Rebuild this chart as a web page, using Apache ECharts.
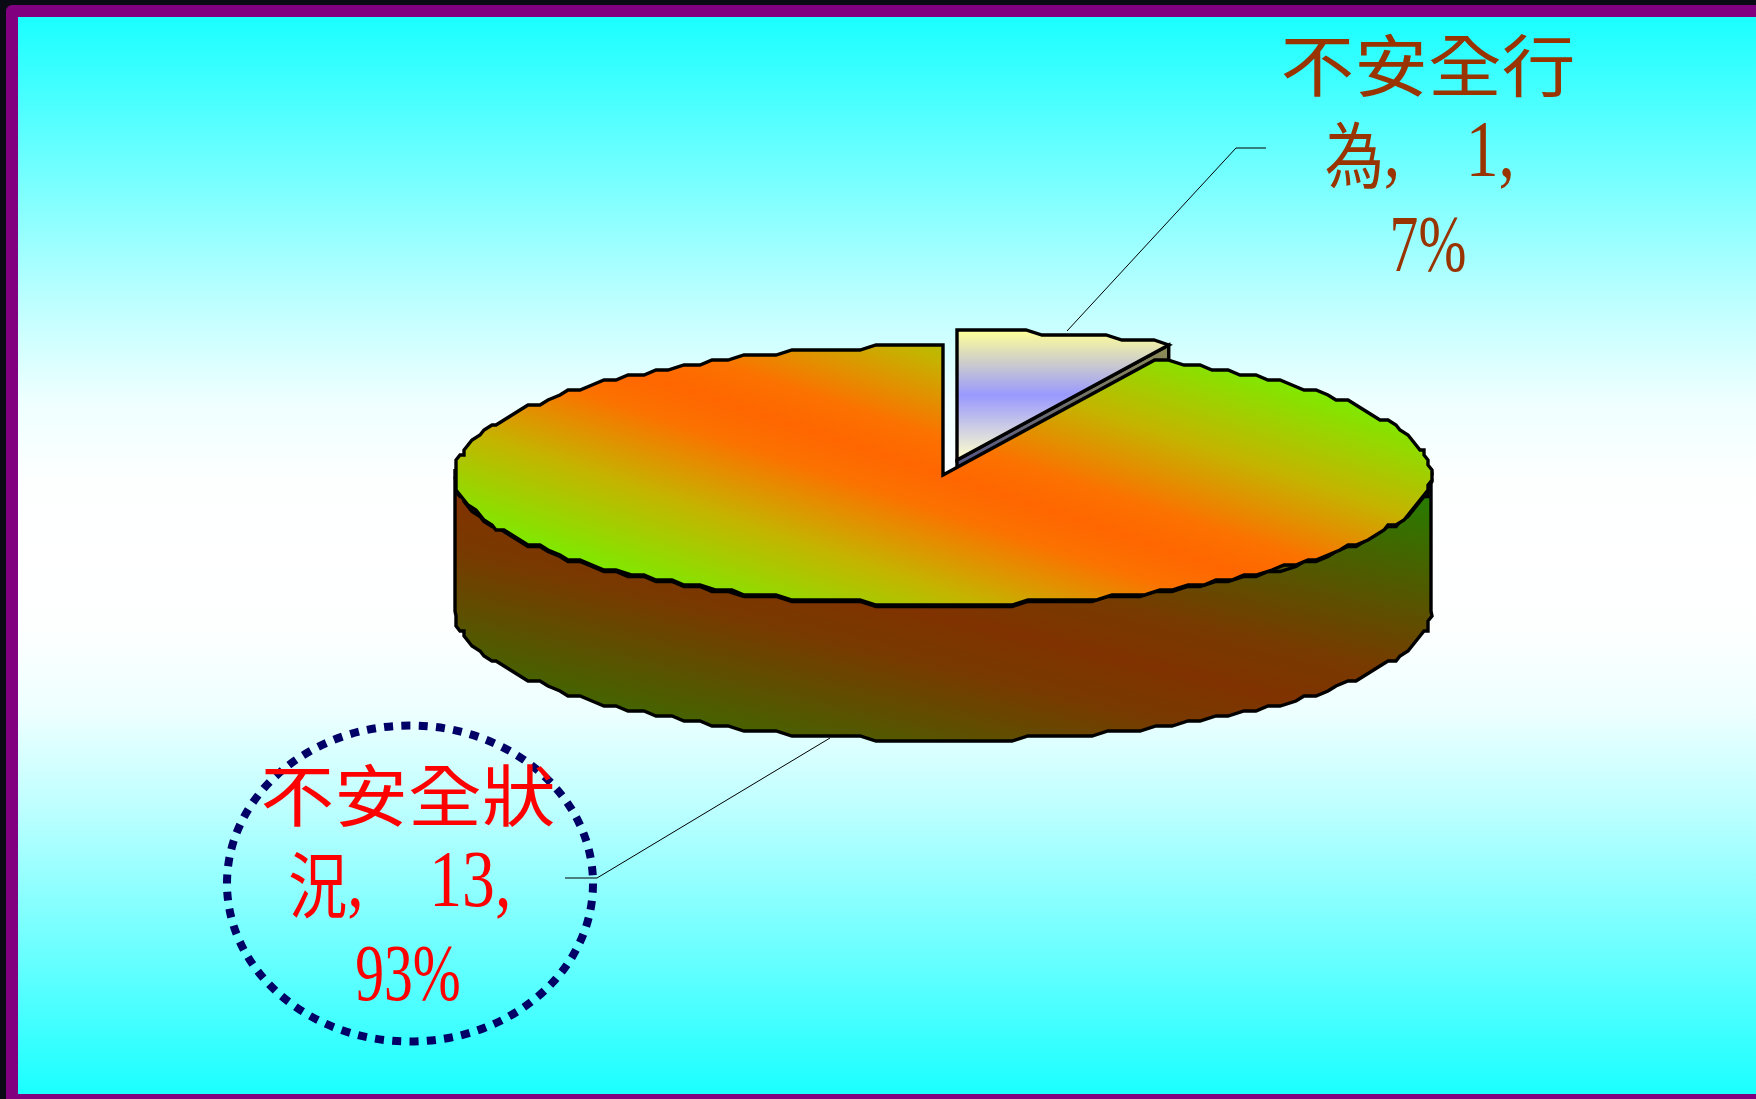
<!DOCTYPE html>
<html><head><meta charset="utf-8"><style>html,body{margin:0;padding:0;background:#0a0a14}#c{width:1756px;height:1099px}</style>
<script src="https://cdn.jsdelivr.net/npm/echarts@6/dist/echarts.min.js"></script></head>
<body><div id="c"></div>
<script>
const categories = ['不安全行為', '不安全狀況'];
const values = [1, 13];
const labelColors = ['#993300', '#ff0000'];

const total = values.reduce((a, b) => a + b, 0);
const G = echarts.graphic;
const CX = 943, CY = 475, RX = 488, RY = 129, DEPTH = 136, QX = 4, QY = 5;
const EXPLODE = [[14, -15], [0, 0]];
const LABELS = [
  {x: 1428, ys: [66, 155, 250], leader: [[1067, 331], [1236, 148], [1266, 148]]},
  {x: 408, ys: [796, 885, 979], leader: [[830, 738], [597, 878], [565, 878]]}
];
const q = (v, s) => Math.round(v / s) * s;
function arc(a0, a1, ox, oy) {
  const pts = [], step = 2, n = Math.max(1, Math.round((a1 - a0) / step));
  for (let i = 0; i <= n; i++) {
    const a = (a0 + (a1 - a0) * i / n) * Math.PI / 180;
    const edge = i === 0 || i === n;
    const x = CX + RX * Math.sin(a) + ox, y = CY - RY * Math.cos(a) + oy;
    const p = edge ? [x, q(y - oy, QY) + oy] : [q(x - ox, QX) + ox, q(y - oy, QY) + oy];
    const last = pts[pts.length - 1];
    if (!last || last[0] !== p[0] || last[1] !== p[1]) pts.push(p);
  }
  return pts;
}
const lg = (x0, y0, x1, y1, stops) => new G.LinearGradient(x0, y0, x1, y1, stops.map(s => ({offset: s[0], color: s[1]})), true);
const GREEN = '#80e800', ORANGE = '#ff6600', DGREEN = '#1e8400', BROWN = '#803300';
const TOPSTOPS = [[0, GREEN], [0.22, '#c4b400'], [0.41, '#fb7200'], [0.5, ORANGE], [0.59, '#fb7200'], [0.78, '#c4b400'], [1, GREEN]];
const topFill = lg(943 + 0.316 * 195, 475 - 0.949 * 195, 943 - 0.316 * 195, 475 + 0.949 * 195, TOPSTOPS);
const sideFill = lg(470 + 0.232 * 250, 504 - 0.973 * 250, 470 - 0.232 * 250, 504 + 0.973 * 250,
  [[0, DGREEN], [0.4, '#783a00'], [0.5, BROWN], [0.6, '#783a00'], [1, DGREEN]]);
const thinTop = lg(0, 331, 0, 459, [[0, '#ffff99'], [0.5, '#9999ff'], [1, '#ffffcc']]);
const thinSide = lg(0, 344, 0, 480, [[0, '#8c8c54'], [1, '#4d4d8c']]);
const LINE = {stroke: '#000', lineWidth: 3.4, lineJoin: 'miter', miterLimit: 4};
const CJK = '"Noto Sans CJK TC"', SERIF = '"Liberation Serif"';

function renderItem(params, api) {
  const i = params.dataIndex;
  let start = 0;
  for (let k = 0; k < i; k++) start += values[k];
  const a0 = start / total * 360, a1 = (start + api.value(0)) / total * 360;
  const [ox, oy] = EXPLODE[i];
  const apex = [CX + ox, CY + oy];
  const rim = arc(a0, a1, ox, oy);
  const kids = [];
  const poly = (points, fill) => kids.push({type: 'polygon', shape: {points}, style: Object.assign({fill}, LINE)});
  if (i === 0) {
    const c = rim[rim.length - 1];
    poly([[c[0], c[1]], [c[0], c[1] + DEPTH], [apex[0], apex[1] + DEPTH], apex], thinSide);
    poly([apex].concat(rim), thinTop);
  } else {
    const from = Math.max(a0, 90), to = Math.min(a1, 270);
    const hidden = arc(from, to, ox, oy - 6), lower = arc(from, to, ox, oy + DEPTH).reverse();
    poly(hidden.concat(lower), sideFill);
    kids.push({type: 'polyline', shape: {points: arc(from, to, ox, oy + 1.5)}, style: Object.assign({fill: 'none'}, LINE)});
    poly([apex].concat(rim), topFill);
  }
  const L = LABELS[i], name = api.value(1), v = api.value(0);
  const pct = Math.round(v / total * 100) + '%';
  kids.push({type: 'polyline', shape: {points: L.leader}, style: {stroke: '#000', lineWidth: 1, fill: 'none'}});
  if (i === 1) kids.push({type: 'ellipse', shape: {cx: 410, cy: 883.5, rx: 183, ry: 158},
    style: {fill: 'none', stroke: '#000066', lineWidth: 8, lineDash: [9, 8.3]}});
  const base = {fill: labelColors[i], align: 'center', verticalAlign: 'middle'};
  kids.push({type: 'text', x: L.x, y: L.ys[0], scaleX: 1.1, style: Object.assign({text: name.slice(0, 4), font: '67px ' + CJK}, base)});
  kids.push({type: 'text', x: L.x, y: L.ys[1], scaleX: 0.82, style: Object.assign({
    text: '{c|' + name.slice(4) + '}{d|,    ' + v + ', }',
    rich: {
      c: {font: '72px ' + CJK, fill: labelColors[i], verticalAlign: 'middle'},
      d: {font: '80px ' + SERIF, fill: labelColors[i], verticalAlign: 'middle'}
    }}, base)});
  kids.push({type: 'text', x: L.x, y: L.ys[2], scaleX: 0.72, style: Object.assign({text: pct, font: '80px ' + SERIF}, base)});
  return {type: 'group', children: kids};
}

const chart = echarts.init(document.getElementById('c'), null, {width: 1756, height: 1099});
chart.setOption({
  animation: false,
  backgroundColor: '#0a0a14',
  graphic: [
    {type: 'rect', z: -10, shape: {x: 6, y: 5, width: 1750, height: 1094, r: [6, 0, 0, 0]}, style: {fill: '#800080'}},
    {type: 'rect', z: -9, shape: {x: 18, y: 17, width: 1738, height: 1077},
      style: {fill: lg(0, 17, 0, 1094, [[0, '#1affff'], [0.263, '#bcffff'], [0.356, '#eeffff'], [0.43, '#fdffff'], [0.5, '#ffffff'],
        [0.57, '#fdffff'], [0.644, '#eeffff'], [0.737, '#bcffff'], [1, '#1affff']])}}
  ],
  series: [{
    type: 'custom', coordinateSystem: 'none', silent: true, z: 5,
    renderItem,
    data: categories.map((c, i) => [values[i], c])
  }]
});
</script></body></html>
